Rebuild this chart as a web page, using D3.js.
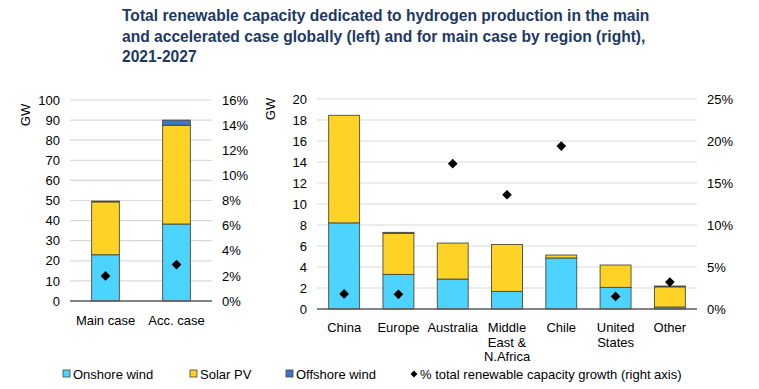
<!DOCTYPE html>
<html>
<head>
<meta charset="utf-8">
<script src="https://cdn.jsdelivr.net/npm/d3@7"></script>
<style>
  body { margin: 0; background: #fff; }
  text { font-family: "Liberation Sans", Arial, sans-serif; }
</style>
</head>
<body>
<script>
var width = 759, height = 389;

// left panel: global cases
var cases = ["Main case", "Acc. case"];
var caseOnshore = [23, 38.3];
var caseSolar = [26.3, 49.1];
var caseOffshore = [0.4, 2.6];
var caseGrowth = [2.0, 2.9];

// right panel: regions, main case
var regions = [["China"], ["Europe"], ["Australia"], ["Middle", "East &", "N.Africa"], ["Chile"], ["United", "States"], ["Other"]];
var regOnshore = [8.2, 3.3, 2.85, 1.68, 4.86, 2.06, 0.19];
var regSolar = [10.25, 3.9, 3.43, 4.47, 0.28, 2.13, 1.92];
var regOffshore = [0, 0.1, 0, 0, 0, 0, 0.08];
var regGrowth = [1.8, 1.75, 17.3, 13.6, 19.4, 1.5, 3.2];

var leftTicks = [0, 10, 20, 30, 40, 50, 60, 70, 80, 90, 100];
var leftPctTicks = [0, 2, 4, 6, 8, 10, 12, 14, 16];
var rightTicks = [0, 2, 4, 6, 8, 10, 12, 14, 16, 18, 20];
var rightPctTicks = [0, 5, 10, 15, 20, 25];

var series = ["Onshore wind", "Solar PV", "Offshore wind"];
var colors = {"Onshore wind": "#4dd3ff", "Solar PV": "#ffd226", "Offshore wind": "#3d74c4"};
var navy = "#203864";

var svg = d3.select("body").append("svg")
  .attr("width", width).attr("height", height);

// title
var title = ["Total renewable capacity dedicated to hydrogen production in the main",
  "and accelerated case globally (left) and for main case by region (right),",
  "2021-2027"];
svg.append("g").selectAll("text").data(title).enter().append("text")
  .attr("x", 122).attr("y", function(d, i) { return 21 + i * 20.5; })
  .attr("fill", navy).attr("font-weight", "bold").attr("font-size", "15.6px")
  .text(function(d) { return d; });

function panel(opts) {
  var g = svg.append("g");
  var x = d3.scaleBand().domain(d3.range(opts.cats.length))
    .range([opts.x0, opts.x1]).paddingInner(opts.pad).paddingOuter(opts.pad / 2);
  var y = d3.scaleLinear().domain([0, opts.yMax]).range([opts.y0, opts.y1]);
  var y2 = d3.scaleLinear().domain([0, opts.pMax]).range([opts.y0, opts.y1]);

  // grid
  g.selectAll(".grid").data(opts.ticks.slice(1)).enter().append("line")
    .attr("x1", opts.x0).attr("x2", opts.x1)
    .attr("y1", function(d) { return y(d); }).attr("y2", function(d) { return y(d); })
    .attr("stroke", "#d9d9d9").attr("stroke-width", 1.2);

  // left axis
  var ax = d3.axisLeft(y).tickValues(opts.ticks).tickSize(0).tickPadding(10);
  var ga = g.append("g").attr("transform", "translate(" + opts.x0 + ",0)").call(ax);
  ga.select(".domain").remove();
  ga.selectAll("text").attr("font-size", "13px").attr("fill", "#000")
    .attr("font-family", "Liberation Sans, Arial, sans-serif");

  var ax2 = d3.axisRight(y2).tickValues(opts.pticks).tickSize(0).tickPadding(10)
    .tickFormat(function(d) { return d + "%"; });
  var gb = g.append("g").attr("transform", "translate(" + opts.x1 + ",0)").call(ax2);
  gb.select(".domain").remove();
  gb.selectAll("text").attr("font-size", "13px").attr("fill", "#000")
    .attr("font-family", "Liberation Sans, Arial, sans-serif");

  g.append("text").attr("transform", "translate(" + opts.gwX + "," + opts.gwY + ") rotate(-90)")
    .attr("text-anchor", "middle").attr("font-size", "13px").text("GW");

  // stacks
  var rows = opts.cats.map(function(c, i) {
    return {"Onshore wind": opts.on[i], "Solar PV": opts.solar[i], "Offshore wind": opts.off[i]};
  });
  var stack = d3.stack().keys(series)(rows);
  g.selectAll(".layer").data(stack).enter().append("g")
    .attr("fill", function(d) { return colors[d.key]; })
    .selectAll("rect").data(function(d) { return d; }).enter().append("rect")
    .attr("x", function(d, i) { return x(i); })
    .attr("width", x.bandwidth())
    .attr("y", function(d) { return y(d[1]); })
    .attr("height", function(d) { return y(d[0]) - y(d[1]); })
    .attr("stroke", "#4a4a3a").attr("stroke-width", 0.9);

  // baseline
  g.append("line").attr("x1", opts.x0).attr("x2", opts.x1)
    .attr("y1", opts.y0).attr("y2", opts.y0)
    .attr("stroke", "#595959").attr("stroke-width", 1.3);

  // diamonds
  g.selectAll(".dia").data(opts.growth).enter().append("path")
    .attr("d", d3.symbol(d3.symbolDiamond2, 60))
    .attr("transform", function(d, i) {
      return "translate(" + (x(i) + x.bandwidth() / 2) + "," + y2(d) + ")";
    })
    .attr("fill", "#000");

  // category labels
  var cl = g.selectAll(".cat").data(opts.cats).enter().append("text")
    .attr("text-anchor", "middle").attr("font-size", "13px")
    .attr("x", function(d, i) { return x(i) + x.bandwidth() / 2; })
    .attr("y", opts.labY);
  cl.selectAll("tspan").data(function(d) { return Array.isArray(d) ? d : [d]; })
    .enter().append("tspan")
    .attr("x", function() { return this.parentNode.getAttribute("x"); })
    .attr("dy", function(d, i) { return i === 0 ? 0 : 14.5; })
    .text(function(d) { return d; });
}

panel({cats: cases, on: caseOnshore, solar: caseSolar, off: caseOffshore, growth: caseGrowth,
  x0: 70, x1: 212, y0: 301, y1: 100, yMax: 100, pMax: 16, ticks: leftTicks, pticks: leftPctTicks,
  pad: 0.61, gwX: 30, gwY: 115, labY: 325});

panel({cats: regions, on: regOnshore, solar: regSolar, off: regOffshore, growth: regGrowth,
  x0: 317, x1: 697, y0: 309, y1: 99, yMax: 20, pMax: 25, ticks: rightTicks, pticks: rightPctTicks,
  pad: 0.43, gwX: 275, gwY: 109, labY: 332});

// legend
var legend = [
  {label: "Onshore wind", x: 63, color: colors["Onshore wind"]},
  {label: "Solar PV", x: 190, color: colors["Solar PV"]},
  {label: "Offshore wind", x: 286, color: colors["Offshore wind"]}
];
var lg = svg.append("g");
lg.selectAll("rect").data(legend).enter().append("rect")
  .attr("x", function(d) { return d.x; }).attr("y", 370)
  .attr("width", 7).attr("height", 7)
  .attr("fill", function(d) { return d.color; })
  .attr("stroke", "#444").attr("stroke-width", 0.8);
lg.selectAll("text").data(legend).enter().append("text")
  .attr("x", function(d) { return d.x + 10; }).attr("y", 379)
  .attr("font-size", "13px").text(function(d) { return d.label; });
lg.append("path").attr("d", d3.symbol(d3.symbolDiamond2, 30))
  .attr("transform", "translate(414,374)").attr("fill", "#000");
lg.append("text").attr("x", 420).attr("y", 379).attr("font-size", "13px")
  .text("% total renewable capacity growth (right axis)");
</script>
</body>
</html>
